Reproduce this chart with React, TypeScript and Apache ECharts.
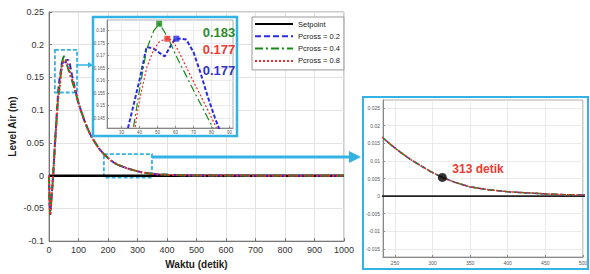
import { useEffect, useRef } from "react";
import * as echarts from "echarts";

// ---- data ----
const time = [0, 2, 4, 8, 14, 20, 26, 30, 33, 36, 40, 44, 48, 51, 54, 57, 60, 63, 66, 70, 74, 78, 82, 90, 100, 110, 120, 130, 140, 150, 160, 170, 180, 190, 200, 210, 220, 232, 245, 257, 270, 283, 298, 313, 330, 350, 375, 403, 428, 452, 476, 500, 550, 600, 700, 800, 900, 1000];

const tail = [0.111, 0.097, 0.084, 0.073, 0.063, 0.055, 0.048, 0.041, 0.036, 0.031, 0.027, 0.0232, 0.02, 0.0169, 0.0145, 0.0125, 0.0105, 0.0088, 0.0069, 0.0053, 0.0039, 0.0026, 0.0018, 0.0012, 0.0009, 0.0006, 0.0004, 0.0003, 0.0002, 0.0001, 0, 0, 0, 0];

const pcross02 = [0, -0.04, -0.06, -0.038, 0, 0.048, 0.092, 0.12, 0.139, 0.148, 0.16, 0.1735, 0.1728, 0.1712, 0.1697, 0.1735, 0.1768, 0.1768, 0.1765, 0.1715, 0.163, 0.1535, 0.145, 0.13, ...tail];
const pcross04 = [0, -0.04, -0.06, -0.038, 0, 0.046, 0.088, 0.114, 0.127, 0.138, 0.156, 0.1725, 0.18, 0.1828, 0.1795, 0.1755, 0.1705, 0.1662, 0.162, 0.1562, 0.1506, 0.145, 0.1394, 0.127, ...tail];
const pcross08 = [0, -0.04, -0.06, -0.038, 0, 0.045, 0.086, 0.112, 0.124, 0.134, 0.152, 0.165, 0.1725, 0.1755, 0.1766, 0.1766, 0.1742, 0.17, 0.1655, 0.1597, 0.154, 0.1482, 0.1423, 0.128, ...tail];

const setpointTime = [0, 1000];
const setpointValue = [0, 0];

const peakTime = [51, 55.5, 60.5];
const peakValue = [0.1828, 0.1768, 0.1768];
const peakText = ["0.183", "0.177", "0.177"];

const settleTime = 313;
const settleValue = 0.0053;
const settleText = "313 detik";

const legendNames = ["Setpoint", "Pcross = 0.2", "Pcross = 0.4", "Pcross = 0.8"];

const mainXTicks = [0, 100, 200, 300, 400, 500, 600, 700, 800, 900, 1000];
const inset1XTicks = [30, 40, 50, 60, 70, 80, 90];
const inset1YTicks = [0.145, 0.15, 0.155, 0.16, 0.165, 0.17, 0.175, 0.18];
const inset2XTicks = [250, 300, 350, 400, 450, 500];
const inset2YTicks = [-0.015, -0.01, -0.005, 0, 0.005, 0.01, 0.015, 0.02, 0.025];

// ---- styles ----
const FONT = "'Liberation Sans', Arial, Helvetica, sans-serif";
const CYAN = "#33b2e4";
const BLUE = "#2b2be6";
const GREEN = "#178a17";
const RED = "#ee2b2b";
const BLACK = "#000000";

export default function App() {
  const ref = useRef<HTMLDivElement>(null);

  useEffect(() => {
    const chart = echarts.init(ref.current!, null, { renderer: "svg" });
    const pairs = (xs: number[], ys: number[]) => xs.map((t, i) => [t, ys[i]]);
    const fmt = (v: number) => String(+(+v).toFixed(4));

    const curveStyles = [
      { name: legendNames[1], vals: pcross02, color: BLUE, type: [6, 3] as any },
      { name: legendNames[2], vals: pcross04, color: GREEN, type: [8, 3, 2, 3] as any },
      { name: legendNames[3], vals: pcross08, color: RED, type: [2, 2] as any },
    ];

    const series: any[] = [];
    // main grid
    series.push({
      type: "line",
      name: legendNames[0],
      xAxisIndex: 0,
      yAxisIndex: 0,
      data: pairs(setpointTime, setpointValue),
      symbol: "none",
      lineStyle: { color: BLACK, width: 2.5 },
      itemStyle: { color: BLACK },
      z: 2,
      markArea: {
        silent: true,
        itemStyle: { color: "rgba(0,0,0,0)", borderColor: CYAN, borderWidth: 1.8, borderType: [4, 2] },
        data: [
          [{ coord: [20, 0.192] }, { coord: [95, 0.127] }],
          [{ coord: [186, 0.033] }, { coord: [349, -0.003] }],
        ],
      },
    });
    curveStyles.forEach((c) =>
      series.push({
        type: "line",
        name: c.name,
        xAxisIndex: 0,
        yAxisIndex: 0,
        data: pairs(time, c.vals),
        symbol: "none",
        lineStyle: { color: c.color, width: 2, type: c.type },
        itemStyle: { color: c.color },
        z: 2,
      })
    );
    // inset 1 (peak zoom)
    curveStyles.forEach((c, i) =>
      series.push({
        type: "line",
        name: c.name,
        xAxisIndex: 1,
        yAxisIndex: 1,
        data: pairs(time, c.vals),
        symbol: "none",
        clip: true,
        lineStyle: { color: c.color, width: i === 0 ? 2 : 1.2, type: i === 0 ? [4, 2] : c.type },
        itemStyle: { color: c.color },
        z: 7,
      })
    );
    series.push({
      type: "scatter",
      name: "peak",
      xAxisIndex: 1,
      yAxisIndex: 1,
      symbol: "rect",
      symbolSize: 6,
      data: peakTime.map((t, i) => ({
        value: [t, peakValue[i]],
        itemStyle: { color: [GREEN, RED, BLUE][i] },
      })),
      z: 8,
    });
    // inset 2 (settling zoom)
    series.push({
      type: "line",
      name: legendNames[0],
      xAxisIndex: 2,
      yAxisIndex: 2,
      data: pairs(setpointTime, setpointValue),
      symbol: "none",
      lineStyle: { color: "#222", width: 1.8 },
      itemStyle: { color: BLACK },
      z: 7,
    });
    curveStyles.forEach((c) =>
      series.push({
        type: "line",
        name: c.name,
        xAxisIndex: 2,
        yAxisIndex: 2,
        data: pairs(time, c.vals),
        symbol: "none",
        clip: true,
        lineStyle: { color: c.color, width: 1.5, type: c.type },
        itemStyle: { color: c.color },
        z: 7,
      })
    );
    series.push({
      type: "scatter",
      name: "settle",
      xAxisIndex: 2,
      yAxisIndex: 2,
      symbolSize: 9,
      data: [[settleTime, settleValue]],
      itemStyle: { color: BLACK },
      z: 8,
    });

    const smallAxis = (fs: number) => ({
      axisLine: { show: true, lineStyle: { color: "#888", width: 1 } },
      axisTick: { show: true, inside: true, length: 2, lineStyle: { color: "#888" } },
      splitLine: { show: true, lineStyle: { color: "#e6e6e6", width: 0.8 } },
      z: 6,
      axisLabel: { fontSize: fs, color: "#555", margin: 2, formatter: fmt },
    });

    const option: any = {
      animation: false,
      textStyle: { fontFamily: FONT },
      grid: [
        { left: 49, top: 12, width: 295, height: 232, show: true, borderColor: "#9a9a9a", borderWidth: 1, backgroundColor: "transparent" },
        { left: 107, top: 20, width: 126, height: 108, show: true, borderColor: "#999", borderWidth: 0.8, backgroundColor: "transparent", z: 6 },
        { left: 383, top: 100, width: 200, height: 157, show: true, borderColor: "#999", borderWidth: 0.8, backgroundColor: "transparent", z: 6 },
      ],
      xAxis: [
        {
          gridIndex: 0,
          type: "value",
          min: mainXTicks[0],
          max: mainXTicks[mainXTicks.length - 1],
          interval: 100,
          axisLine: { show: true, onZero: false, lineStyle: { color: "#777" } },
          axisTick: { show: true, inside: true, length: 3, lineStyle: { color: "#777" } },
          axisLabel: { fontSize: 9, color: "#333", margin: 4, formatter: (v: number) => String(v) },
          splitLine: { show: true, lineStyle: { color: "#e3e3e3" } },
          name: "Waktu (detik)",
          nameLocation: "middle",
          nameGap: 13,
          nameTextStyle: { fontSize: 10, fontWeight: "bold", color: "#222" },
        },
        {
          gridIndex: 1,
          type: "value",
          min: 22,
          max: 92,
          ...smallAxis(4.5),
          axisLine: { show: true, onZero: false, lineStyle: { color: "#888", width: 1 } },
          axisTick: { show: true, inside: true, length: 2, customValues: inset1XTicks, lineStyle: { color: "#888" } },
          axisLabel: { fontSize: 4.5, color: "#555", margin: 2, customValues: inset1XTicks, formatter: fmt },
        },
        {
          gridIndex: 2,
          type: "value",
          min: 234,
          max: 500,
          ...smallAxis(5),
          axisLine: { show: true, onZero: false, lineStyle: { color: "#888", width: 1 } },
          axisTick: { show: true, inside: true, length: 2, customValues: inset2XTicks, lineStyle: { color: "#888" } },
          axisLabel: { fontSize: 5, color: "#555", margin: 3, customValues: inset2XTicks, formatter: fmt },
        },
      ],
      yAxis: [
        {
          gridIndex: 0,
          type: "value",
          min: -0.1,
          max: 0.25,
          interval: 0.05,
          axisLine: { show: true, lineStyle: { color: "#777" } },
          axisTick: { show: true, inside: true, length: 3, lineStyle: { color: "#777" } },
          axisLabel: { fontSize: 9, color: "#333", margin: 5, formatter: fmt },
          splitLine: { show: true, lineStyle: { color: "#e3e3e3" } },
          name: "Level Air (m)",
          nameLocation: "middle",
          nameGap: 32,
          nameTextStyle: { fontSize: 10, fontWeight: "bold", color: "#222" },
        },
        {
          gridIndex: 1,
          type: "value",
          min: 0.141,
          max: 0.1843,
          ...smallAxis(4.5),
          axisTick: { show: true, inside: true, length: 2, customValues: inset1YTicks, lineStyle: { color: "#888" } },
          axisLabel: { fontSize: 4.5, color: "#555", margin: 2, customValues: inset1YTicks, formatter: fmt },
        },
        {
          gridIndex: 2,
          type: "value",
          min: -0.0173,
          max: 0.0273,
          ...smallAxis(5),
          axisTick: { show: true, inside: true, length: 2, customValues: inset2YTicks, lineStyle: { color: "#888" } },
          axisLabel: { fontSize: 5, color: "#555", margin: 3, customValues: inset2YTicks, formatter: fmt },
        },
      ],
      legend: {
        data: legendNames,
        orient: "vertical",
        left: 252,
        top: 17,
        itemWidth: 38,
        itemHeight: 8,
        itemGap: 4.3,
        padding: [3, 4, 5, 2],
        backgroundColor: "#fff",
        borderColor: "#999",
        borderWidth: 1,
        itemStyle: { opacity: 0 },
        textStyle: { fontSize: 7.5, color: "#222", fontFamily: FONT },
        z: 10,
      },
      graphic: [
        { type: "rect", z: 5, shape: { x: 93, y: 17, width: 144, height: 119 }, style: { fill: "#fff", stroke: CYAN, lineWidth: 2.5 } },
        { type: "rect", z: 1, shape: { x: 363, y: 97, width: 225, height: 172 }, style: { fill: "#fff", stroke: CYAN, lineWidth: 2 } },
        { type: "line", z: 5, shape: { x1: 77, y1: 65, x2: 89, y2: 65 }, style: { stroke: CYAN, lineWidth: 1.5 } },
        { type: "polygon", z: 5, shape: { points: [[88, 62], [93, 65], [88, 68]] }, style: { fill: CYAN } },
        { type: "line", z: 5, shape: { x1: 152, y1: 157, x2: 351, y2: 157 }, style: { stroke: CYAN, lineWidth: 3 } },
        { type: "polygon", z: 5, shape: { points: [[349, 151], [361, 157], [349, 163]] }, style: { fill: CYAN } },
        ...peakText.map((txt, i) => ({
          type: "text",
          z: 10,
          x: 219,
          y: [32, 49, 70][i],
          style: { text: txt, fill: ["#2f8a2f", "#ec3a32", "#3434c4"][i], fontSize: 13, fontWeight: "bold", fontFamily: FONT, align: "center", verticalAlign: "middle" },
        })),
        {
          type: "text",
          z: 10,
          x: 478,
          y: 169,
          style: { text: settleText, fill: "#ec3a32", fontSize: 12, fontWeight: "bold", fontFamily: FONT, align: "center", verticalAlign: "middle" },
        },
      ],
      series,
    };

    chart.setOption(option);
    return () => chart.dispose();
  }, []);

  return <div ref={ref} style={{ position: "fixed", left: 0, top: 0, width: 590, height: 274, background: "#fff" }} />;
}
